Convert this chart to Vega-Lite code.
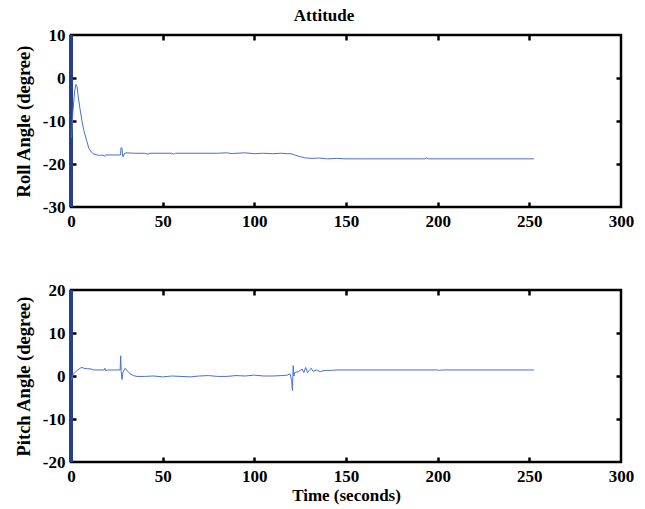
{
  "$schema": "https://vega.github.io/schema/vega-lite/v6.json",
  "background": "white",
  "padding": {"left": 13, "top": 6, "right": 5, "bottom": 2},
  "title": {"text": "Attitude", "font": "Liberation Serif", "fontSize": 17, "fontWeight": "bold", "anchor": "middle", "offset": 0, "color": "black"},
  "config": {
    "view": {"stroke": "black", "strokeWidth": 2.5},
    "axis": {
      "domain": false, "grid": false, "zindex": 1,
      "tickColor": "black", "tickWidth": 2.5, "tickSize": 5, "ticks": false,
      "labelFont": "Liberation Serif", "labelFontSize": 17, "labelFontWeight": "bold", "labelColor": "black",
      "labelPadding": 6, "labelFlush": false, "labelOverlap": false,
      "labelExpr": "replace(datum.label, '\u2212', '-')",
      "titleFont": "Liberation Serif", "titleFontSize": 18.5, "titleFontWeight": "bold", "titleColor": "black"
    }
  },
  "datasets": {
    "init": [{"t": 0, "rlo": -30, "rhi": 10, "plo": -20, "phi": 20}],
    "roll": [
      {"t": 0.3, "v": -14}, {"t": 1, "v": -8}, {"t": 2, "v": -3}, {"t": 2.7, "v": -1.5}, {"t": 3.3, "v": -2},
      {"t": 4, "v": -4.5}, {"t": 5, "v": -7.4}, {"t": 6, "v": -10}, {"t": 7, "v": -12.2}, {"t": 8.5, "v": -14.5},
      {"t": 9.7, "v": -16.3}, {"t": 11, "v": -17.2}, {"t": 12.5, "v": -17.7}, {"t": 14, "v": -17.9}, {"t": 16, "v": -18},
      {"t": 17.5, "v": -17.9}, {"t": 18, "v": -18.2}, {"t": 19, "v": -17.9}, {"t": 24, "v": -17.9}, {"t": 27, "v": -17.9},
      {"t": 27.3, "v": -16.2}, {"t": 27.8, "v": -16.3}, {"t": 28.2, "v": -18.2}, {"t": 28.6, "v": -18.3}, {"t": 29, "v": -17.6},
      {"t": 30, "v": -17.4}, {"t": 35, "v": -17.5}, {"t": 40, "v": -17.5}, {"t": 42, "v": -17.7}, {"t": 43, "v": -17.5},
      {"t": 55, "v": -17.5}, {"t": 56, "v": -17.7}, {"t": 57, "v": -17.5}, {"t": 80, "v": -17.5}, {"t": 85, "v": -17.4},
      {"t": 88, "v": -17.6}, {"t": 90, "v": -17.5}, {"t": 95, "v": -17.4}, {"t": 100, "v": -17.6}, {"t": 105, "v": -17.5},
      {"t": 110, "v": -17.6}, {"t": 115, "v": -17.5}, {"t": 118, "v": -17.6}, {"t": 120, "v": -17.6}, {"t": 122, "v": -17.9},
      {"t": 125, "v": -18.3}, {"t": 128, "v": -18.6}, {"t": 132, "v": -18.7}, {"t": 135, "v": -18.6}, {"t": 140, "v": -18.8},
      {"t": 145, "v": -18.7}, {"t": 150, "v": -18.8}, {"t": 160, "v": -18.8}, {"t": 193, "v": -18.8}, {"t": 194, "v": -18.6},
      {"t": 195, "v": -18.8}, {"t": 252.5, "v": -18.8}
    ],
    "pitch": [
      {"t": 0.3, "v": -1}, {"t": 1, "v": 0.3}, {"t": 1.5, "v": 0.5}, {"t": 3, "v": 1.2}, {"t": 5, "v": 1.8},
      {"t": 6, "v": 2.0}, {"t": 7, "v": 1.8}, {"t": 9, "v": 1.7}, {"t": 11.5, "v": 1.6}, {"t": 12, "v": 1.4},
      {"t": 18, "v": 1.4}, {"t": 18.5, "v": 1.8}, {"t": 19, "v": 1.2}, {"t": 20, "v": 1.4}, {"t": 26.8, "v": 1.4},
      {"t": 27.1, "v": 4.7}, {"t": 27.4, "v": 1.0}, {"t": 27.8, "v": -0.8}, {"t": 28.3, "v": 0.8}, {"t": 29.5, "v": 1.8},
      {"t": 30.5, "v": 1.3}, {"t": 32, "v": 0.6}, {"t": 34, "v": 0.1}, {"t": 36, "v": -0.1}, {"t": 40, "v": -0.1},
      {"t": 45, "v": 0}, {"t": 50, "v": -0.2}, {"t": 55, "v": 0}, {"t": 60, "v": -0.1}, {"t": 65, "v": -0.2},
      {"t": 70, "v": 0}, {"t": 75, "v": 0.1}, {"t": 80, "v": -0.1}, {"t": 85, "v": -0.1}, {"t": 90, "v": 0.1},
      {"t": 95, "v": 0}, {"t": 100, "v": 0.2}, {"t": 105, "v": 0}, {"t": 110, "v": 0}, {"t": 115, "v": 0.1},
      {"t": 118, "v": 0.2}, {"t": 119.5, "v": 0.5}, {"t": 120.3, "v": -1}, {"t": 120.8, "v": -3.4}, {"t": 121.2, "v": 2.4},
      {"t": 121.6, "v": 0}, {"t": 122, "v": 0.8}, {"t": 124, "v": 1.0}, {"t": 126, "v": 1.6}, {"t": 127, "v": 0.8},
      {"t": 128, "v": 2.0}, {"t": 129, "v": 0.8}, {"t": 130, "v": 1.3}, {"t": 131, "v": 1.8}, {"t": 132, "v": 1.1},
      {"t": 134, "v": 1.4}, {"t": 136, "v": 1.0}, {"t": 138, "v": 1.3}, {"t": 142, "v": 1.3}, {"t": 145, "v": 1.4},
      {"t": 150, "v": 1.4}, {"t": 200, "v": 1.4}, {"t": 201, "v": 1.3}, {"t": 202, "v": 1.4}, {"t": 252.5, "v": 1.4}
    ]
  },
  "spacing": 48,
  "vconcat": [
    {
      "width": 550, "height": 172,
      "resolve": {"axis": {"x": "independent", "y": "independent"}},
      "layer": [
        {
          "data": {"name": "init"},
          "mark": {"type": "rule", "color": "#263f8c", "strokeWidth": 4},
          "encoding": {
            "x": {"field": "t", "type": "quantitative", "scale": {"domain": [0, 300], "nice": false}, "axis": {"orient": "bottom", "values": [0, 50, 100, 150, 200, 250, 300], "title": null}},
            "y": {"field": "rlo", "type": "quantitative", "scale": {"domain": [-30, 10], "nice": false}, "axis": {"orient": "left", "values": [-30, -20, -10, 0, 10], "title": "Roll Angle (degree)", "titlePadding": 9}},
            "y2": {"field": "rhi"}
          }
        },
        {
          "data": {"name": "roll"},
          "mark": {"type": "line", "color": "#4a6fd0", "strokeWidth": 1, "clip": true},
          "encoding": {
            "x": {"field": "t", "type": "quantitative", "axis": {"orient": "bottom", "offset": -5, "values": [50, 100, 150, 200, 250], "labels": false, "ticks": true, "tickSize": 5, "tickColor": "black", "title": null}},
            "y": {"field": "v", "type": "quantitative", "axis": {"orient": "left", "offset": -5, "values": [-20, -10, 0], "labels": false, "ticks": true, "tickSize": 5, "tickColor": "black", "title": null}}
          }
        },
        {
          "data": {"name": "roll"},
          "mark": {"type": "line", "opacity": 0},
          "encoding": {
            "x": {"field": "t", "type": "quantitative", "axis": {"orient": "top", "offset": -5, "values": [50, 100, 150, 200, 250], "labels": false, "ticks": true, "tickSize": 5, "tickColor": "black", "title": null}},
            "y": {"field": "v", "type": "quantitative", "axis": {"orient": "right", "offset": -5, "values": [-20, -10, 0], "labels": false, "ticks": true, "tickSize": 5, "tickColor": "black", "title": null}}
          }
        }
      ]
    },
    {
      "width": 550, "height": 172,
      "resolve": {"axis": {"x": "independent", "y": "independent"}},
      "layer": [
        {
          "data": {"name": "init"},
          "mark": {"type": "rule", "color": "#263f8c", "strokeWidth": 4},
          "encoding": {
            "x": {"field": "t", "type": "quantitative", "scale": {"domain": [0, 300], "nice": false}, "axis": {"orient": "bottom", "values": [0, 50, 100, 150, 200, 250, 300], "title": "Time (seconds)", "titleFontSize": 17, "titlePadding": 3}},
            "y": {"field": "plo", "type": "quantitative", "scale": {"domain": [-20, 20], "nice": false}, "axis": {"orient": "left", "values": [-20, -10, 0, 10, 20], "title": "Pitch Angle (degree)", "titlePadding": 9}},
            "y2": {"field": "phi"}
          }
        },
        {
          "data": {"name": "pitch"},
          "mark": {"type": "line", "color": "#4a6fd0", "strokeWidth": 1, "clip": true},
          "encoding": {
            "x": {"field": "t", "type": "quantitative", "axis": {"orient": "bottom", "offset": -5, "values": [50, 100, 150, 200, 250], "labels": false, "ticks": true, "tickSize": 5, "tickColor": "black", "title": null}},
            "y": {"field": "v", "type": "quantitative", "axis": {"orient": "left", "offset": -5, "values": [-10, 0, 10], "labels": false, "ticks": true, "tickSize": 5, "tickColor": "black", "title": null}}
          }
        },
        {
          "data": {"name": "pitch"},
          "mark": {"type": "line", "opacity": 0},
          "encoding": {
            "x": {"field": "t", "type": "quantitative", "axis": {"orient": "top", "offset": -5, "values": [50, 100, 150, 200, 250], "labels": false, "ticks": true, "tickSize": 5, "tickColor": "black", "title": null}},
            "y": {"field": "v", "type": "quantitative", "axis": {"orient": "right", "offset": -5, "values": [-10, 0, 10], "labels": false, "ticks": true, "tickSize": 5, "tickColor": "black", "title": null}}
          }
        }
      ]
    }
  ]
}
